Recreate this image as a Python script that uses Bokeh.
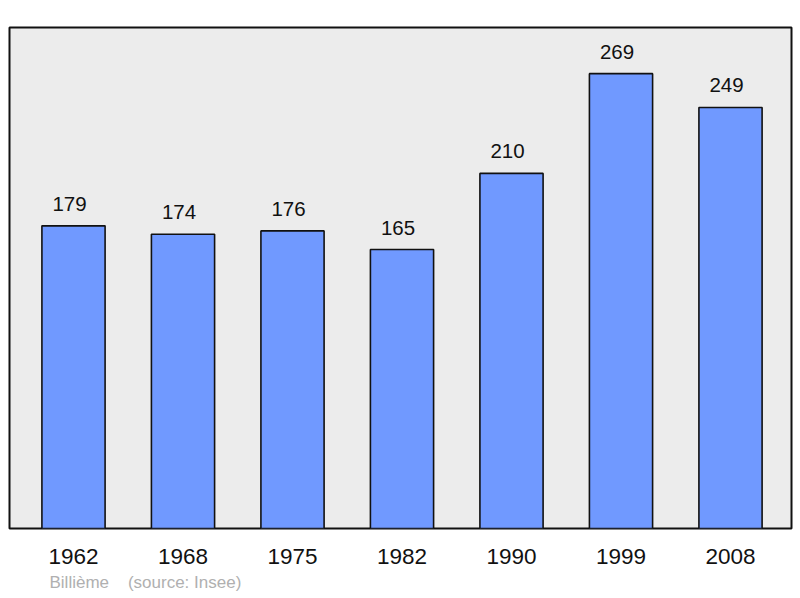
from bokeh.plotting import figure
from bokeh.models import ColumnDataSource, FixedTicker, Range1d, Title
from bokeh.core.properties import value
from bokeh.embed import file_html
from bokeh.resources import INLINE

years = ["1962", "1968", "1975", "1982", "1990", "1999", "2008"]
population = [179, 174, 176, 165, 210, 269, 249]
footer_text = "Billième\u00a0\u00a0\u00a0\u00a0(source: Insee)"

idx = list(range(len(years)))
src = ColumnDataSource(dict(x=idx, y=population, lab=[str(v) for v in population]))

FONT = "Liberation Sans"

p = figure(width=800, height=598, output_backend="svg", toolbar_location=None,
           x_range=Range1d(-0.5845, 6.557), y_range=Range1d(0, 296.3),
           y_axis_location=None, min_border_left=9, min_border_right=9,
           min_border_top=27, min_border_bottom=70)
p.background_fill_color = "#ececec"
p.border_fill_color = "white"
p.outline_line_color = "#111111"
p.outline_line_width = 2
p.grid.visible = False

p.vbar(x="x", top="y", width=0.577, bottom=0, source=src,
       fill_color="#7099ff", line_color="#111111", line_width=1.6)
p.text(x="x", y="y", text="lab", source=src, text_align="center",
       text_baseline="alphabetic", y_offset=-22, x_offset=-4, text_font=value(FONT),
       text_font_size="20.5px", text_color="#111111")

ax = p.xaxis[0]
ax.ticker = FixedTicker(ticks=idx)
ax.major_label_overrides = {i: y for i, y in zip(idx, years)}
ax.axis_line_color = None
ax.major_tick_line_color = None
ax.minor_tick_line_color = None
ax.major_tick_out = 0
ax.major_label_standoff = 20
ax.major_label_text_font = FONT
ax.major_label_text_font_size = "22.5px"
ax.major_label_text_color = "#111111"

foot = Title(text=footer_text, align="left", offset=40, standoff=8,
             text_font=FONT, text_font_size="17px", text_font_style="normal",
             text_color="#b0b0b0")
p.add_layout(foot, "below")

open("out.html", "w").write(file_html(p, INLINE))
